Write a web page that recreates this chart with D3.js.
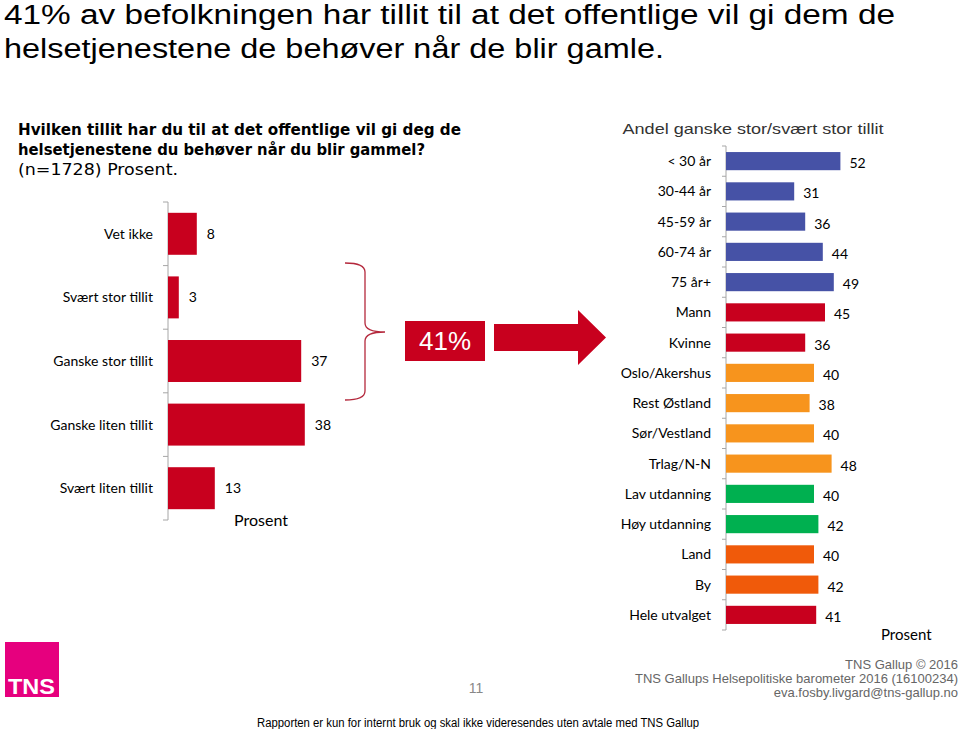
<!DOCTYPE html>
<html><head><meta charset="utf-8">
<script src="https://cdn.jsdelivr.net/npm/d3@7"></script>
<style>body{margin:0;background:#fff;} svg{display:block;}</style>
</head><body>
<svg id="c" width="960" height="729"></svg>
<script>
const leftCategories = ["Vet ikke","Svært stor tillit","Ganske stor tillit","Ganske liten tillit","Svært liten tillit"];
const leftValues = [8,3,37,38,13];
const rightCategories = ["< 30 år","30-44 år","45-59 år","60-74 år","75 år+","Mann","Kvinne","Oslo/Akershus","Rest Østland","Sør/Vestland","Trlag/N-N","Lav utdanning","Høy utdanning","Land","By","Hele utvalget"];
const rightValues = [52,31,36,44,49,45,36,40,38,40,48,40,42,40,42,41];
const rightGroups = ["alder","alder","alder","alder","alder","kjonn","kjonn","region","region","region","region","utd","utd","bosted","bosted","total"];
const groupColors = {alder:"#4652a6", kjonn:"#c8001e", region:"#f7941d", utd:"#00b050", bosted:"#f05a0a", total:"#c8001e"};
const totalShare = "41%";

const svg = d3.select("#c");
const lblFont = "Lato, 'Open Sans', sans-serif";

// Title
const title = svg.append("g").attr("font-family","'Liberation Sans', Arial, sans-serif").attr("font-size",27).attr("fill","#000");
title.append("text").attr("x",4).attr("y",24).attr("textLength",891).attr("lengthAdjust","spacingAndGlyphs")
  .text("41% av befolkningen har tillit til at det offentlige vil gi dem de");
title.append("text").attr("x",4).attr("y",58).attr("textLength",660).attr("lengthAdjust","spacingAndGlyphs")
  .text("helsetjenestene de behøver når de blir gamle.");

// Question
const q = svg.append("g").attr("font-family","'DejaVu Sans', Verdana, sans-serif").attr("font-size",15).attr("fill","#000");
q.append("text").attr("x",18).attr("y",135).attr("font-weight","bold").attr("textLength",443).attr("lengthAdjust","spacingAndGlyphs")
  .text("Hvilken tillit har du til at det offentlige vil gi deg de");
q.append("text").attr("x",18).attr("y",155).attr("font-weight","bold").attr("textLength",407).attr("lengthAdjust","spacingAndGlyphs")
  .text("helsetjenestene du behøver når du blir gammel?");
q.append("text").attr("x",18).attr("y",175).attr("textLength",160).attr("lengthAdjust","spacingAndGlyphs")
  .text("(n=1728) Prosent.");

// Left chart
const lx = d3.scaleLinear().domain([0,40]).range([168,312]);
const ly = d3.scaleBand().domain(leftCategories).range([202,520]).paddingInner(0.34).paddingOuter(0.17);
const L = svg.append("g");
L.append("line").attr("x1",lx(0)).attr("x2",lx(0)).attr("y1",202).attr("y2",520).attr("stroke","#a6a6a6");
const lstep = ly.step();
d3.range(leftCategories.length+1).forEach(i=>{
  L.append("line").attr("x1",lx(0)-5).attr("x2",lx(0)).attr("y1",202+i*lstep).attr("y2",202+i*lstep).attr("stroke","#a6a6a6");
});
L.selectAll("rect").data(leftValues).join("rect")
  .attr("x",lx(0)).attr("y",(d,i)=>ly(leftCategories[i])).attr("width",d=>lx(d)-lx(0)).attr("height",ly.bandwidth()).attr("fill","#c8001e");
L.selectAll("text.cat").data(leftCategories).join("text").attr("class","cat")
  .attr("x",153).attr("y",d=>ly(d)+ly.bandwidth()/2).attr("dy","0.35em").attr("text-anchor","end")
  .attr("font-family",lblFont).attr("font-size",14).attr("fill","#000").text(d=>d);
L.selectAll("text.val").data(leftValues).join("text").attr("class","val")
  .attr("x",d=>lx(d)+10).attr("y",(d,i)=>ly(leftCategories[i])+ly.bandwidth()/2).attr("dy","0.35em")
  .attr("font-family",lblFont).attr("font-size",14).attr("fill","#000").text(d=>d);
L.append("text").attr("x",234).attr("y",526).attr("font-family",lblFont).attr("font-size",16).text("Prosent");

// Brace
svg.append("path").attr("d","M345,263 Q365,263 365,272 L365,323 Q365,332 385,332 Q365,332 365,341 L365,391 Q365,400 345,400")
  .attr("fill","none").attr("stroke","#b4283c").attr("stroke-width",1.3);

// 41% box
svg.append("rect").attr("x",405).attr("y",321).attr("width",80).attr("height",40).attr("fill","#c8001e");
svg.append("text").attr("x",445).attr("y",341).attr("dy","0.36em").attr("text-anchor","middle")
  .attr("font-family","'Liberation Sans', Arial, sans-serif").attr("font-size",26).attr("fill","#fff").text(totalShare);

// Arrow
svg.append("path").attr("d","M494,324 L578,324 L578,310 L606,337.5 L578,365 L578,351 L494,351 Z").attr("fill","#c8001e");

// Right chart
const rx = d3.scaleLinear().domain([0,60]).range([726,858]);
const ry = d3.scaleBand().domain(rightCategories).range([146,630]).paddingInner(0.4).paddingOuter(0.2);
const R = svg.append("g");
R.append("text").attr("x",753).attr("y",134).attr("text-anchor","middle")
  .attr("font-family","'Liberation Sans', Arial, sans-serif").attr("font-size",15).attr("fill","#333")
  .attr("textLength",261).attr("lengthAdjust","spacingAndGlyphs").text("Andel ganske stor/svært stor tillit");
R.append("line").attr("x1",rx(0)).attr("x2",rx(0)).attr("y1",146).attr("y2",630).attr("stroke","#a6a6a6");
const rstep = ry.step();
d3.range(rightCategories.length+1).forEach(i=>{
  R.append("line").attr("x1",rx(0)-4).attr("x2",rx(0)).attr("y1",146+i*rstep).attr("y2",146+i*rstep).attr("stroke","#a6a6a6");
});
R.selectAll("rect").data(rightValues).join("rect")
  .attr("x",rx(0)).attr("y",(d,i)=>ry(rightCategories[i])).attr("width",d=>rx(d)-rx(0)).attr("height",ry.bandwidth())
  .attr("fill",(d,i)=>groupColors[rightGroups[i]]);
R.selectAll("text.cat").data(rightCategories).join("text").attr("class","cat")
  .attr("x",711).attr("y",d=>ry(d)+ry.bandwidth()/2).attr("dy","0.35em").attr("text-anchor","end")
  .attr("font-family",lblFont).attr("font-size",14).attr("fill","#000").text(d=>d);
R.selectAll("text.val").data(rightValues).join("text").attr("class","val")
  .attr("x",d=>rx(d)+9).attr("y",(d,i)=>ry(rightCategories[i])+ry.bandwidth()/2+2).attr("dy","0.35em")
  .attr("font-family",lblFont).attr("font-size",14).attr("fill","#000").text(d=>d);
R.append("text").attr("x",881).attr("y",640).attr("font-family",lblFont).attr("font-size",15).text("Prosent");

// Footer
svg.append("rect").attr("x",5).attr("y",642).attr("width",54).attr("height",55).attr("fill","#e6007e");
svg.append("text").attr("x",8).attr("y",694).attr("font-family","'Liberation Sans', Arial, sans-serif").attr("font-weight","bold")
  .attr("font-size",22).attr("fill","#fff").attr("textLength",47).attr("lengthAdjust","spacingAndGlyphs").text("TNS");
const f = svg.append("g").attr("font-family","'Liberation Sans', Arial, sans-serif").attr("font-size",13).attr("fill","#666").attr("text-anchor","end");
f.append("text").attr("x",958).attr("y",669).text("TNS Gallup © 2016");
f.append("text").attr("x",958).attr("y",683).text("TNS Gallups Helsepolitiske barometer 2016 (16100234)");
f.append("text").attr("x",958).attr("y",697).text("eva.fosby.livgard@tns-gallup.no");
svg.append("text").attr("x",476).attr("y",693).attr("text-anchor","middle").attr("font-family","'Liberation Sans', Arial, sans-serif")
  .attr("font-size",14).attr("fill","#888").text("11");
svg.append("text").attr("x",478).attr("y",727).attr("text-anchor","middle").attr("font-family","'Liberation Sans', Arial, sans-serif")
  .attr("font-size",12).attr("fill","#000").attr("textLength",442).attr("lengthAdjust","spacingAndGlyphs")
  .text("Rapporten er kun for internt bruk og skal ikke videresendes uten avtale med TNS Gallup");
</script>
</body></html>
